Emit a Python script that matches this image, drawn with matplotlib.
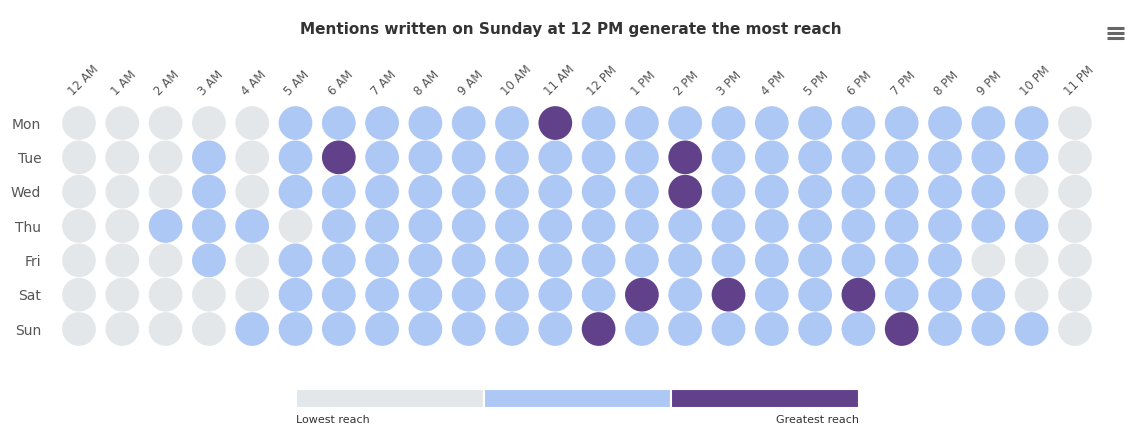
import numpy as np
import matplotlib
matplotlib.use("Agg")
import matplotlib.pyplot as plt
from matplotlib.lines import Line2D

# reach level per day/hour: 0 = lowest, 1 = medium, 2 = greatest
days = ["Mon", "Tue", "Wed", "Thu", "Fri", "Sat", "Sun"]
hours = ["12 AM", "1 AM", "2 AM", "3 AM", "4 AM", "5 AM", "6 AM", "7 AM", "8 AM",
         "9 AM", "10 AM", "11 AM", "12 PM", "1 PM", "2 PM", "3 PM", "4 PM", "5 PM",
         "6 PM", "7 PM", "8 PM", "9 PM", "10 PM", "11 PM"]
mon = [0, 0, 0, 0, 0, 1, 1, 1, 1, 1, 1, 2, 1, 1, 1, 1, 1, 1, 1, 1, 1, 1, 1, 0]
tue = [0, 0, 0, 1, 0, 1, 2, 1, 1, 1, 1, 1, 1, 1, 2, 1, 1, 1, 1, 1, 1, 1, 1, 0]
wed = [0, 0, 0, 1, 0, 1, 1, 1, 1, 1, 1, 1, 1, 1, 2, 1, 1, 1, 1, 1, 1, 1, 0, 0]
thu = [0, 0, 1, 1, 1, 0, 1, 1, 1, 1, 1, 1, 1, 1, 1, 1, 1, 1, 1, 1, 1, 1, 1, 0]
fri = [0, 0, 0, 1, 0, 1, 1, 1, 1, 1, 1, 1, 1, 1, 1, 1, 1, 1, 1, 1, 1, 0, 0, 0]
sat = [0, 0, 0, 0, 0, 1, 1, 1, 1, 1, 1, 1, 1, 2, 1, 2, 1, 1, 2, 1, 1, 1, 0, 0]
sun = [0, 0, 0, 0, 1, 1, 1, 1, 1, 1, 1, 1, 2, 1, 1, 1, 1, 1, 1, 2, 1, 1, 1, 0]
levels = ["Lowest reach", "", "Greatest reach"]
colors = ["#e4e7ea", "#aec8f5", "#62418b"]

grid = np.array([mon, tue, wed, thu, fri, sat, sun])

fig = plt.figure(figsize=(11.4, 4.4), dpi=100)
fig.patch.set_facecolor("white")

# main dot grid
ax = fig.add_axes([0.0503, 0.2132, 0.9116, 0.5462])
yy, xx = np.indices(grid.shape)
cmap = np.array(colors)
ax.scatter(xx.ravel(), yy.ravel(), s=590, c=cmap[grid.ravel()], edgecolors="none")
ax.set_xlim(-0.5, len(hours) - 0.5)
ax.set_ylim(len(days) - 0.5, -0.5)
ax.set_xticks([])
ax.set_yticks(range(len(days)))
ax.set_yticklabels(days, fontsize=10, color="#555555")
ax.tick_params(axis="y", length=0, pad=11.5)
for s in ax.spines.values():
    s.set_visible(False)

for i, h in enumerate(hours):
    ax.text(i - 0.2, -0.85, h, rotation=45, ha="left", va="center",
            rotation_mode="anchor", fontsize=8.5, color="#555555")

fig.text(0.501, 0.932, "Mentions written on Sunday at 12 PM generate the most reach",
         ha="center", va="center", fontsize=11, fontweight="bold", color="#333333")

# hamburger menu icon
for yf in (28, 33, 38):
    fig.add_artist(Line2D([1107 / 1140, 1124 / 1140], [1 - yf / 440, 1 - yf / 440],
                          color="#666666", linewidth=2.2, solid_capstyle="butt"))

# legend bar
lax = fig.add_axes([296 / 1140, 1 - 408 / 440, (859 - 296) / 1140, 19 / 440])
lax.barh([0, 0, 0], [1, 1, 1], left=[0, 1, 2], height=1, color=colors,
         edgecolor="white", linewidth=1.5)
lax.set_xlim(0, 3)
lax.set_ylim(-0.5, 0.5)
lax.axis("off")
fig.text(296 / 1140, 1 - 420 / 440, levels[0], ha="left", va="center",
         fontsize=8, color="#333333")
fig.text(859 / 1140, 1 - 420 / 440, levels[2], ha="right", va="center",
         fontsize=8, color="#333333")

fig.savefig("out.png", dpi=100, facecolor="white")
